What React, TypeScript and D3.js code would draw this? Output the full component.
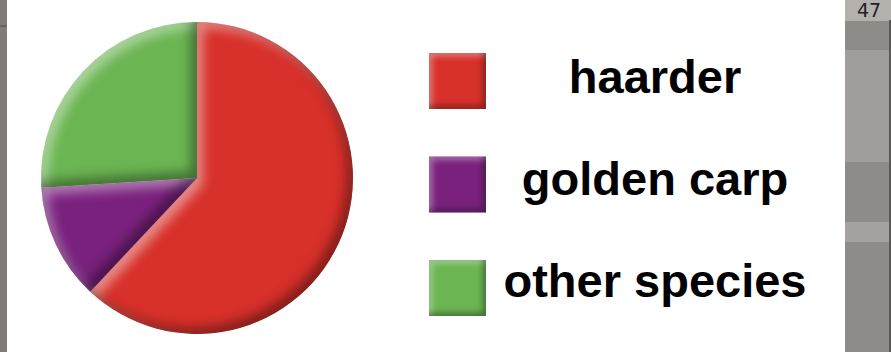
import React from "react";
import * as d3 from "d3";

const categories = ["haarder", "golden carp", "other species"];
const values = [62, 12, 26];
const colors = ["#d8302a", "#7a217e", "#6bb552"];

const W = 891;
const H = 352;

export default function App() {
  const pie = d3.pie<number>().sort(null).startAngle(0).endAngle(2 * Math.PI);
  const arcs = pie(values);
  const cx = 197;
  const cy = 178;
  const r = 156;
  const arcGen = d3.arc<d3.PieArcDatum<number>>().innerRadius(0).outerRadius(r);

  const legendY = d3.scalePoint<string>().domain(categories).range([53, 260]);
  const sq = 57;

  return (
    <svg width={W} height={H} style={{ position: "absolute", left: 0, top: 0, display: "block" }}>
      <defs>
        <filter id="bevel" x="-15%" y="-15%" width="130%" height="130%" colorInterpolationFilters="sRGB">
          <feGaussianBlur in="SourceAlpha" stdDeviation="6" result="blur" />
          <feOffset in="blur" dx="6" dy="6" result="offDR" />
          <feComposite in="SourceAlpha" in2="offDR" operator="arithmetic" k1="0" k2="1" k3="-1" k4="0" result="hlMask" />
          <feFlood floodColor="#ffffff" floodOpacity="0.45" result="white" />
          <feComposite in="white" in2="hlMask" operator="in" result="hl" />
          <feOffset in="blur" dx="-6" dy="-6" result="offUL" />
          <feComposite in="SourceAlpha" in2="offUL" operator="arithmetic" k1="0" k2="1" k3="-1" k4="0" result="shMask" />
          <feFlood floodColor="#000000" floodOpacity="0.4" result="black" />
          <feComposite in="black" in2="shMask" operator="in" result="sh" />
          <feMerge>
            <feMergeNode in="SourceGraphic" />
            <feMergeNode in="hl" />
            <feMergeNode in="sh" />
          </feMerge>
        </filter>
        <filter id="bevelSmall" x="-20%" y="-20%" width="140%" height="140%" colorInterpolationFilters="sRGB">
          <feGaussianBlur in="SourceAlpha" stdDeviation="3" result="blur" />
          <feOffset in="blur" dx="3" dy="3" result="offDR" />
          <feComposite in="SourceAlpha" in2="offDR" operator="arithmetic" k1="0" k2="1" k3="-1" k4="0" result="hlMask" />
          <feFlood floodColor="#ffffff" floodOpacity="0.4" result="white" />
          <feComposite in="white" in2="hlMask" operator="in" result="hl" />
          <feOffset in="blur" dx="-3" dy="-3" result="offUL" />
          <feComposite in="SourceAlpha" in2="offUL" operator="arithmetic" k1="0" k2="1" k3="-1" k4="0" result="shMask" />
          <feFlood floodColor="#000000" floodOpacity="0.4" result="black" />
          <feComposite in="black" in2="shMask" operator="in" result="sh" />
          <feMerge>
            <feMergeNode in="SourceGraphic" />
            <feMergeNode in="hl" />
            <feMergeNode in="sh" />
          </feMerge>
        </filter>
      </defs>
      <rect x={0} y={0} width={W} height={H} fill="#ffffff" />
      {/* page scan edges */}
      <rect x={0} y={0} width={7} height={H} fill="#7f7c79" />
      <rect x={0} y={25} width={7} height={2} fill="#666360" />
      <rect x={845} y={0} width={46} height={H} fill="#8e8b88" />
      <rect x={845} y={0} width={46} height={21} fill="#b4b1ad" />
      <rect x={845} y={50} width={46} height={112} fill="#a09d9a" />
      <rect x={845} y={222} width={46} height={20} fill="#a5a29f" />
      <rect x={889} y={20} width={2} height={H - 20} fill="#5a5856" />
      <text x={857} y={17} fontFamily="DejaVu Sans, sans-serif" fontSize={19} fill="#222">47</text>

      <g transform={`translate(${cx},${cy})`}>
        {arcs.map((a, i) => (
          <path key={categories[i]} d={arcGen(a) || ""} fill={colors[i]} filter="url(#bevel)" />
        ))}
      </g>

      {categories.map((c, i) => {
        const y = legendY(c) as number;
        return (
          <g key={c}>
            <rect x={429} y={y} width={sq} height={sq - 1} fill={colors[i]} filter="url(#bevelSmall)" />
            <text
              x={655}
              y={y + 40 - i * 1.5}
              textAnchor="middle"
              fontFamily="Liberation Sans, Arial, sans-serif"
              fontWeight="bold"
              fontSize={47}
              fill="#000"
            >
              {c}
            </text>
          </g>
        );
      })}
    </svg>
  );
}
